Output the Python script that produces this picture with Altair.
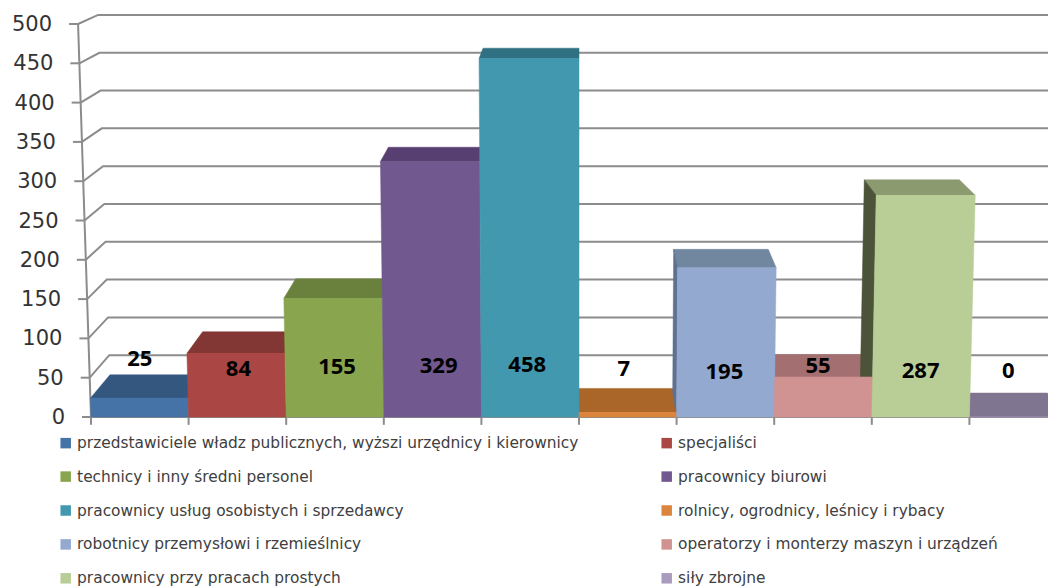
import altair as alt
import pandas as pd

names = [
    "przedstawiciele władz publicznych, wyższi urzędnicy i kierownicy",
    "specjaliści",
    "technicy i inny średni personel",
    "pracownicy biurowi",
    "pracownicy usług osobistych i sprzedawcy",
    "rolnicy, ogrodnicy, leśnicy i rybacy",
    "robotnicy przemysłowi i rzemieślnicy",
    "operatorzy i monterzy maszyn i urządzeń",
    "pracownicy przy pracach prostych",
    "siły zbrojne",
]
label_values = [25, 84, 155, 329, 458, 7, 195, 55, 287, 0]
drawn_heights = [24, 81, 151, 325, 456, 6, 190, 51, 282, 0]
front_colors = ["#4572A7", "#AA4643", "#89A54E", "#71588F", "#4198AF",
                "#DB843D", "#93A9CF", "#D19392", "#B9CD96", "#A99BBD"]
top_colors = ["#345780", "#833735", "#6A813D", "#573F72", "#2F7083",
              "#AA6529", "#71869F", "#A36F70", "#8C9A70", "#807591"]
side_colors = ["#2A4668", "#6A2C2B", "#556731", "#46335C", "#26596A",
               "#885020", "#5F7190", "#825859", "#4B5338", "#655C73"]
y_ticks = [0, 50, 100, 150, 200, 250, 300, 350, 400, 450, 500]
label_nudge = [(0, -11), (1, -1), (2, -3), (6, -4), (-3, -5),
               (-4, -1), (-1, 2), (-5, -4), (0, 1), (-10, 1)]

PXU, PXV = 97.6, 0.786          # pixels per category, pixels per value unit
X0, Y0, XC = 91.0, 417.0, 579.0  # baseline origin and vanishing column
TILT, KX, KY, LIFT = 5.3e-5, 0.96, 0.962, 24.0


def front(u, v):
    x0 = X0 + u * PXU
    return XC + (x0 - XC) * (1 + TILT * v), v


def back(u, v):
    x, _ = front(u, v)
    xb = XC + (x - XC) * KX
    dy = v * PXV * KY + LIFT
    return xb, dy / PXV


def px_to_u(x):
    return (x - X0) / PXU


def rec(rows, pid, pts, color):
    for k, (x, v) in enumerate(pts):
        rows.append({"pid": pid, "k": k, "u": px_to_u(x), "v": v, "c": color})


behind, fronts, lines, ylab = [], [], [], []
order = sorted(range(10), key=lambda i: abs(i - 5))
for i in order:
    h = drawn_heights[i]
    rec(behind, f"top{i}", [front(i, h), front(i + 1, h), back(i + 1, h), back(i, h)], top_colors[i])
    if i > 5:
        rec(behind, f"side{i}", [front(i, h), back(i, h), back(i, 0), front(i, 0)], side_colors[i])
for i in range(10):
    h = drawn_heights[i]
    rec(fronts, f"f{i}", [front(i, 0), front(i + 1, 0), front(i + 1, h), front(i, h)], front_colors[i])

for t in y_ticks:
    fx, fv = front(0, t)
    if t > 0:
        bl = back(0, t)
        br = back(10, t)
        rec(lines, f"g{t}", [front(0, t), bl, br], "#8C8C8C")
    rec(lines, f"t{t}", [(fx - 9, t), (fx, t)], "#8C8C8C")
    ylab.append({"u": px_to_u(fx - 26), "v": t, "txt": str(t)})
axis_line = []
rec(axis_line, "yaxis", [front(0, 0), front(0, 500)], "#8C8C8C")
rec(axis_line, "base", [(83, 0), (1056, 0)], "#8C8C8C")
for i in range(10):
    x, _ = front(i, 0)
    rec(axis_line, f"xt{i}", [(x, 0), (x, -10)], "#8C8C8C")

bars = []
for i, n in enumerate(names):
    h = drawn_heights[i]
    l = max(front(i, 0)[0], front(i, h)[0])
    r = min(front(i + 1, 0)[0], front(i + 1, h)[0])
    bars.append({"name": n, "x": px_to_u(l), "x2": px_to_u(r), "y": h, "y0": 0})

labels = []
for i, t in enumerate(label_values):
    dx, dy = label_nudge[i]
    labels.append({"u": i + 0.5 + dx / PXU, "v": 60 - dy / PXV, "txt": str(t)})

W, H = 1040, 580
xs = alt.Scale(domain=[(8 - X0) / PXU, (1048 - X0) / PXU], range=[0, W], nice=False, zero=False)
ys = alt.Scale(domain=[(Y0 - 588) / PXV, (Y0 - 8) / PXV], range=[H, 0], nice=False, zero=False)
X = alt.X("u:Q", scale=xs, axis=None)
Y = alt.Y("v:Q", scale=ys, axis=None)


def poly(rows):
    return alt.Chart(pd.DataFrame(rows)).mark_line(
        interpolate="linear-closed", clip=True, strokeWidth=0.5
    ).encode(X, Y, detail="pid:N", order="k:Q",
             fill=alt.Fill("c:N", scale=None), stroke=alt.Stroke("c:N", scale=None))


def polyline(rows):
    return alt.Chart(pd.DataFrame(rows)).mark_line(
        clip=True, strokeWidth=2, color="#8C8C8C"
    ).encode(X, Y, detail="pid:N", order="k:Q")


bar_layer = alt.Chart(pd.DataFrame(bars)).mark_bar(clip=True).encode(
    x=alt.X("x:Q", scale=xs, axis=None), x2="x2:Q",
    y=alt.Y("y:Q", scale=ys, axis=None), y2="y0:Q",
    color=alt.Color("name:N", sort=names,
                    scale=alt.Scale(domain=names, range=front_colors),
                    legend=alt.Legend(title=None, orient="none", legendX=50, legendY=427,
                                      columns=2, direction="horizontal", symbolType="square", symbolSize=110,
                                      symbolStrokeWidth=0, labelFont="DejaVu Sans", labelFontSize=15.4,
                                      labelColor="#404040", labelLimit=700, rowPadding=16.9,
                                      columnPadding=80, labelOffset=3.7, padding=0)),
)

ytext = alt.Chart(pd.DataFrame(ylab)).mark_text(
    align="right", baseline="middle", dy=1, font="DejaVu Sans", fontSize=21, color="#333333"
).encode(X, Y, text="txt:N")
dtext = alt.Chart(pd.DataFrame(labels)).mark_text(
    align="center", baseline="middle", font="Open Sans", fontSize=22, fontWeight="bold", color="#000000"
).encode(X, Y, text="txt:N")

chart = alt.layer(polyline(lines), polyline(axis_line), poly(behind), bar_layer, poly(fronts), ytext, dtext).properties(
    width=W, height=H, padding=0, autosize=alt.AutoSizeParams(type="none"), background="#FFFFFF",
).configure_view(stroke=None)

chart.save("out.html", embed_options={"renderer": "svg", "actions": False})
